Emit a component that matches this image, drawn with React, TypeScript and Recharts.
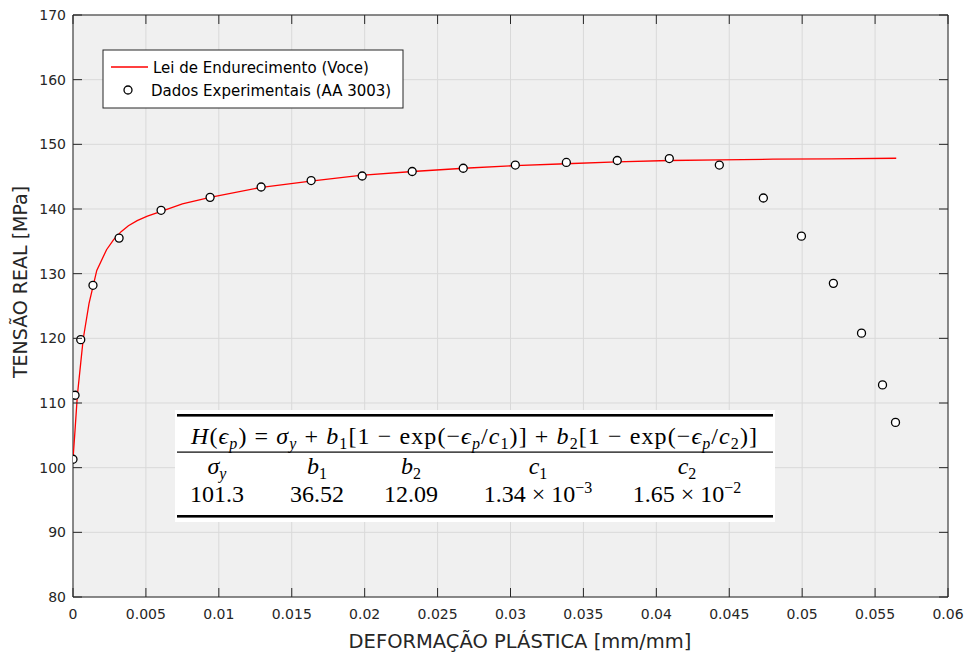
import React from "react";
import {
  ScatterChart,
  Scatter,
  XAxis,
  YAxis,
  CartesianGrid,
} from "recharts";

// experimental points (AA 3003)
const expStrain = [
  0, 0.00014, 0.00053, 0.00137, 0.00316, 0.00604, 0.0094, 0.0129, 0.01633,
  0.01983, 0.02326, 0.02676, 0.03033, 0.03383, 0.03732, 0.04089, 0.04432,
  0.04734, 0.04995, 0.05214, 0.05407, 0.05551, 0.0564,
];
const expStress = [
  101.3, 111.2, 119.8, 128.2, 135.5, 139.8, 141.8, 143.4, 144.4, 145.1, 145.8,
  146.3, 146.8, 147.2, 147.5, 147.8, 146.8, 141.7, 135.8, 128.5, 120.8, 112.8,
  107.0,
];

// Voce hardening law, sampled
const voceStrain = [
  0, 0.00014, 0.0003, 0.00053, 0.0007, 0.0011, 0.00163, 0.0023, 0.0028, 0.0033,
  0.0038, 0.0044, 0.0051, 0.006, 0.0075, 0.0094, 0.0128, 0.0163, 0.0197,
  0.0233, 0.0268, 0.0303, 0.0338, 0.0373, 0.0409, 0.0444, 0.048, 0.052,
  0.05645,
];
const voceStress = [
  101.3, 105.8, 111.2, 116.2, 119.9, 125.4, 130.5, 133.7, 135.3, 136.5, 137.4,
  138.2, 138.9, 139.6, 140.8, 141.8, 143.3, 144.3, 145.2, 145.8, 146.3, 146.7,
  147.0, 147.3, 147.5, 147.6, 147.7, 147.75, 147.85,
];

const xTicks = [
  0, 0.005, 0.01, 0.015, 0.02, 0.025, 0.03, 0.035, 0.04, 0.045, 0.05, 0.055,
  0.06,
];
const yTicks = [80, 90, 100, 110, 120, 130, 140, 150, 160, 170];

// fitted parameters shown in the table
const paramNames: [string, string][] = [
  ["\u03c3", "y"],
  ["b", "1"],
  ["b", "2"],
  ["c", "1"],
  ["c", "2"],
];
const paramValues = ["101.3", "36.52", "12.09", "1.34 × 10|−3", "1.65 × 10|−2"];

const points = expStrain.map((x, i) => ({ x, y: expStress[i] }));
const curve = voceStrain.map((x, i) => ({ x, y: voceStress[i] }));

const AXIS = "#262626";
const FONT = "'DejaVu Sans', sans-serif";
const SERIF = "'Liberation Serif', 'DejaVu Serif', serif";
const TICK = 9;

const BottomTick = ({ x, y, payload }: any) => (
  <g>
    <line x1={x} x2={x} y1={y} y2={y - TICK} stroke={AXIS} />
    <text x={x} y={y + 22} textAnchor="middle" fontSize={14} fill={AXIS} fontFamily={FONT}>
      {String(payload.value)}
    </text>
  </g>
);
const TopTick = ({ x, y }: any) => (
  <line x1={x} x2={x} y1={y} y2={y + TICK} stroke={AXIS} />
);
const LeftTick = ({ x, y, payload }: any) => (
  <g>
    <line x1={x} x2={x + TICK} y1={y} y2={y} stroke={AXIS} />
    <text x={x - 7} y={y + 5} textAnchor="end" fontSize={14} fill={AXIS} fontFamily={FONT}>
      {String(payload.value)}
    </text>
  </g>
);
const RightTick = ({ x, y }: any) => (
  <line x1={x} x2={x - TICK} y1={y} y2={y} stroke={AXIS} />
);

const Marker = ({ cx, cy }: any) => (
  <circle cx={cx} cy={cy} r={4} fill="#fff" stroke="#000" strokeWidth={1.3} />
);

// math runs: n = upright, i = italic, s = subscript, si = italic subscript, up = superscript
type Run = [string, "n" | "i" | "s" | "si" | "up"];
const shift = { n: 0, i: 0, s: 5, si: 5, up: -9 };

function MathRuns({ runs }: { runs: Run[] }) {
  let cur = 0;
  return (
    <>
      {runs.map(([t, k], i) => {
        const dy = shift[k] - cur;
        cur = shift[k];
        const small = k === "s" || k === "si" || k === "up";
        return (
          <tspan
            key={i}
            dy={dy || undefined}
            fontSize={small ? 16 : undefined}
            fontStyle={k === "i" || k === "si" ? "italic" : "normal"}
          >
            {t}
          </tspan>
        );
      })}
    </>
  );
}

const formula: Run[] = [
  ["H", "i"], ["(", "n"], ["\u03f5", "i"], ["p", "si"], [") = ", "n"],
  ["\u03c3", "i"], ["y", "si"], [" + ", "n"], ["b", "i"], ["1", "s"],
  ["[1 − exp(−", "n"], ["\u03f5", "i"], ["p", "si"], ["/", "n"], ["c", "i"],
  ["1", "s"], [")] + ", "n"], ["b", "i"], ["2", "s"], ["[1 − exp(−", "n"],
  ["\u03f5", "i"], ["p", "si"], ["/", "n"], ["c", "i"], ["2", "s"], [")]", "n"],
];

const colX = [217, 317, 411, 538, 687];

function Overlay() {
  return (
    <svg
      width={970}
      height={656}
      style={{ position: "absolute", left: 0, top: 0, pointerEvents: "none" }}
    >
      {/* legend */}
      <rect x={103} y={50} width={300} height={58} fill="#fff" stroke={AXIS} strokeWidth={1} />
      <line x1={111} x2={148} y1={67} y2={67} stroke="#ff0000" strokeWidth={1.3} />
      <text x={153} y={72.5} fontSize={15} fill="#000" fontFamily={FONT}>
        Lei de Endurecimento (Voce)
      </text>
      <circle cx={128} cy={90} r={4} fill="#fff" stroke="#000" strokeWidth={1.3} />
      <text x={151} y={95.5} fontSize={15} fill="#000" fontFamily={FONT}>
        Dados Experimentais (AA 3003)
      </text>

      {/* parameter table */}
      <rect x={175} y={410} width={600} height={112} fill="#fff" />
      <rect x={177} y={414} width={596} height={2.6} fill="#000" />
      <rect x={177} y={451.5} width={596} height={1.2} fill="#000" />
      <rect x={177} y={515} width={596} height={2.6} fill="#000" />
      <g fontFamily={SERIF} fontSize={24} fill="#000">
        <text x={474} y={444} textAnchor="middle" textLength={566} lengthAdjust="spacing">
          <MathRuns runs={formula} />
        </text>
        {paramNames.map(([s, sub], i) => (
          <text key={s + sub} x={colX[i]} y={474} textAnchor="middle">
            <MathRuns runs={[[s, "i"], [sub, /[0-9]/.test(sub) ? "s" : "si"]]} />
          </text>
        ))}
        {paramValues.map((v, i) => {
          const [base, exp] = v.split("|");
          return (
            <text key={v} x={colX[i]} y={502} textAnchor="middle">
              {exp ? <MathRuns runs={[[base, "n"], [exp, "up"]]} /> : base}
            </text>
          );
        })}
      </g>

      {/* axis titles */}
      <text
        x={27}
        y={282}
        transform="rotate(-90 27 282)"
        textAnchor="middle"
        fontSize={19}
        fill={AXIS}
        fontFamily={FONT}
      >
        TENSÃO REAL [MPa]
      </text>
      <text x={520} y={648} textAnchor="middle" fontSize={19.5} fill={AXIS} fontFamily={FONT}>
        DEFORMAÇÃO PLÁSTICA [mm/mm]
      </text>
    </svg>
  );
}

export default function App() {
  return (
    <div
      style={{
        position: "absolute",
        left: 0,
        top: 0,
        width: 970,
        height: 656,
        background: "#fff",
      }}
    >
      <ScatterChart
        width={970}
        height={656}
        margin={{ top: 14, right: 21, bottom: 19, left: 13 }}
      >
        <CartesianGrid fill="#f0f0f0" stroke="#d9d9d9" strokeWidth={1} />
        <XAxis
          dataKey="x"
          type="number"
          domain={[0, 0.06]}
          ticks={xTicks}
          allowDataOverflow
          height={40}
          tickSize={0}
          tickMargin={0}
          tickLine={false}
          axisLine={{ stroke: AXIS }}
          tick={<BottomTick />}
          interval={0}
        />
        <XAxis
          xAxisId="top"
          orientation="top"
          dataKey="x"
          type="number"
          domain={[0, 0.06]}
          ticks={xTicks}
          allowDataOverflow
          height={1}
          tickSize={0}
          tickMargin={0}
          tickLine={false}
          axisLine={{ stroke: AXIS }}
          tick={<TopTick />}
          interval={0}
        />
        <YAxis
          dataKey="y"
          type="number"
          domain={[80, 170]}
          ticks={yTicks}
          allowDataOverflow
          width={60}
          tickSize={0}
          tickMargin={0}
          tickLine={false}
          axisLine={{ stroke: AXIS }}
          tick={<LeftTick />}
          interval={0}
        />
        <YAxis
          yAxisId="right"
          orientation="right"
          dataKey="y"
          type="number"
          domain={[80, 170]}
          ticks={yTicks}
          allowDataOverflow
          width={1}
          tickSize={0}
          tickMargin={0}
          tickLine={false}
          axisLine={{ stroke: AXIS }}
          tick={<RightTick />}
          interval={0}
        />
        <Scatter
          name="Lei de Endurecimento (Voce)"
          data={curve}
          line={{ stroke: "#ff0000", strokeWidth: 1.3 }}
          lineJointType="linear"
          shape={() => <g />}
          fill="#ff0000"
          isAnimationActive={false}
        />
        <Scatter
          name="Dados Experimentais (AA 3003)"
          data={points}
          shape={<Marker />}
          fill="#fff"
          isAnimationActive={false}
        />
      </ScatterChart>
      <Overlay />
    </div>
  );
}
